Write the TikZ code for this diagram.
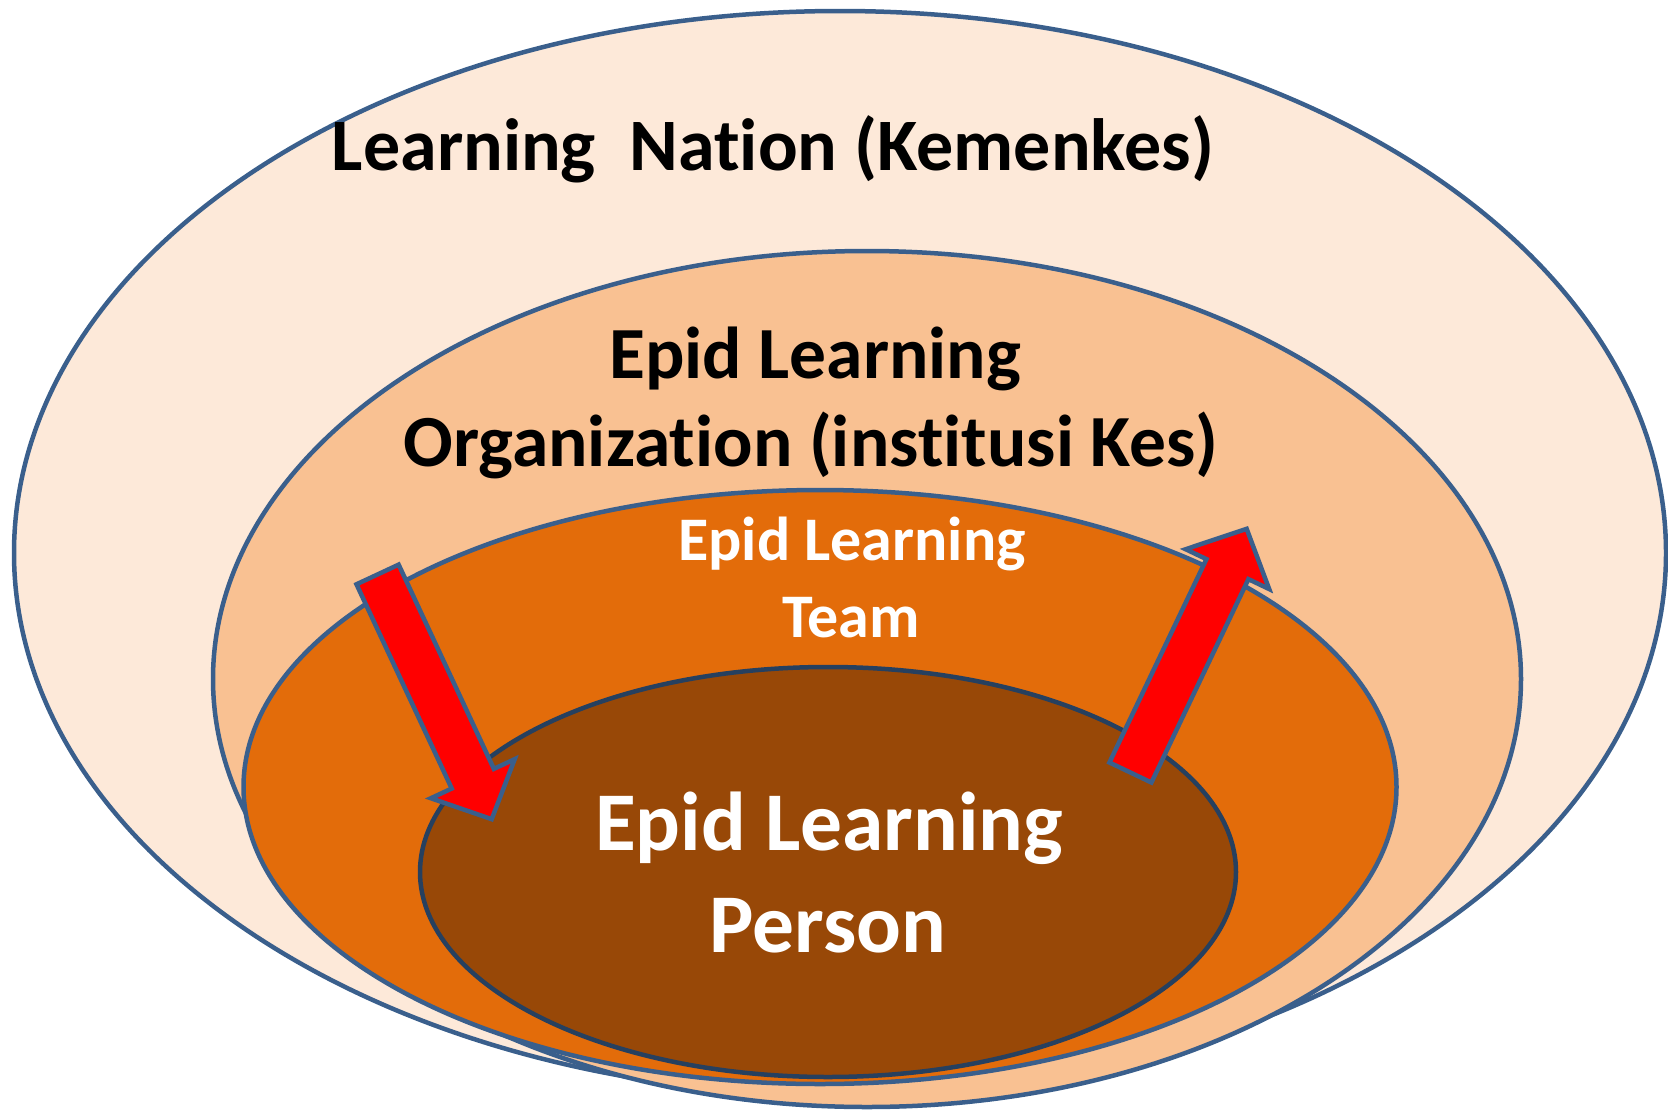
\documentclass[tikz,border=0pt]{standalone}
\usepackage{fontspec}
\setmainfont{Carlito}[Ligatures=NoCommon]
\usetikzlibrary{shapes.geometric,shapes.arrows}

\definecolor{nationfill}{HTML}{FDE9D9}
\definecolor{orgfill}{HTML}{F9C192}
\definecolor{teamfill}{HTML}{E36C0A}
\definecolor{personfill}{HTML}{984807}
\definecolor{edgeblue}{HTML}{3A5F8C}
\definecolor{edgedark}{HTML}{26405F}

\begin{document}
\begin{tikzpicture}[x=1pt, y=-1pt]

\tikzstyle{ring} = [ellipse, draw=edgeblue, line width=4.5pt, inner sep=0pt]
\tikzstyle{bigarrow} = [single arrow, draw=edgeblue, fill=red, line width=4.5pt, inner sep=21pt, minimum height=270pt, single arrow head extend=23pt, single arrow tip angle=92, anchor=tip]
\tikzstyle{txt} = [anchor=base, inner sep=0pt]

\useasboundingbox (0,0) rectangle (1668,1111);

\node[ring, fill=nationfill, minimum width=1652pt, minimum height=1084pt] (n) at (840,553) {};
\node[ring, fill=orgfill, minimum width=1308pt, minimum height=856pt] (o) at (867,679) {};
\node[ring, fill=teamfill, minimum width=1153pt, minimum height=594pt] (t) at (820,787) {};
\node[ring, fill=personfill, draw=edgedark, minimum width=816pt, minimum height=410pt] (p) at (828,872) {};

\node[txt, font={\fontsize{74}{74}\selectfont\bfseries}] (nl) at (773,170) {Learning\ \ Nation (Kemenkes)};

\node[txt, font={\fontsize{73.5}{73.5}\selectfont\bfseries}] (o1) at (815,378) {Epid Learning};
\node[txt, font={\fontsize{73.5}{73.5}\selectfont\bfseries}] (o2) at (811,466) {Organization (institusi Kes)};

\node[txt, white, font={\fontsize{62}{62}\selectfont\bfseries}] (t1) at (852,560) {Epid Learning};
\node[txt, white, font={\fontsize{62}{62}\selectfont\bfseries}] (t2) at (851,637) {Team};

\node[txt, white, font={\fontsize{83.5}{83.5}\selectfont\bfseries}] (p1) at (829,850) {Epid Learning};
\node[txt, white, font={\fontsize{83.5}{83.5}\selectfont\bfseries}] (p2) at (828,952) {Person};

\node[bigarrow, rotate=-65] (down) at (493,822) {};
\node[bigarrow, rotate=64.5] (up) at (1248,526) {};
\end{tikzpicture}
\end{document}
